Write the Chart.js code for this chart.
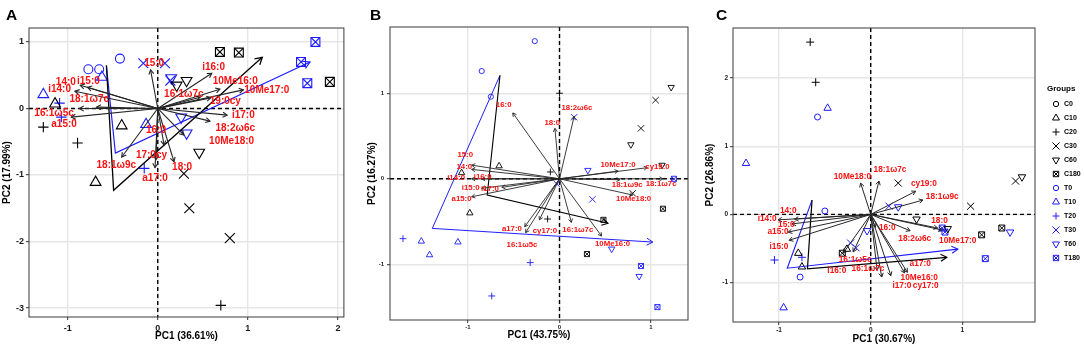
<!DOCTYPE html>
<html>
<head>
<meta charset="utf-8">
<script src="https://cdn.jsdelivr.net/npm/chart.js@4.4.1/dist/chart.umd.min.js"></script>
<style>
html, body { margin: 0; padding: 0; background: #fff; }
#wrap { position: relative; width: 1084px; height: 347px; overflow: hidden; }
#wrap canvas { position: absolute; top: 0; }
</style>
</head>
<body>
<div id="wrap">
  <canvas id="pa" width="352" height="347" style="left:0px"></canvas>
  <canvas id="pb" width="340" height="347" style="left:355px"></canvas>
  <canvas id="pc" width="384" height="347" style="left:700px"></canvas>
</div>
<script>
// groups shown in the legend
var groupNames = ['C0', 'C10', 'C20', 'C30', 'C60', 'C180', 'T0', 'T10', 'T20', 'T30', 'T60', 'T180'];

// ---- panel A ----
var aGroup = ['T0','T0','T0','T10','T10','T10','T20','T20','T20','C20','C20','C20','C30','C30','C30','T30','T30','T30',
              'C10','C10','C10','C60','C60','C60','T60','T60','T60','C180','C180','C180','T180','T180','T180'];
var aPC1 = [-0.77,-0.65,-0.42, -1.27,-0.62,-0.13, -1.09,-1.07,-0.15, -1.27,-0.89,0.70, 0.29,0.35,0.80, -0.16,0.08,0.14,
            -1.14,-0.40,-0.69, 0.32,0.21,0.46, 0.15,0.26,0.32, 0.69,0.90,1.91, 1.75,1.59,1.66];
var aPC2 = [0.59,0.59,0.75, 0.21,0.47,-0.24, 0.08,-0.13,-0.90, -0.28,-0.52,-2.96, -0.98,-1.50,-1.95, 0.68,0.68,0.42,
            0.07,-0.26,-1.11, 0.42,0.35,-0.66, 0.46,-0.13,-0.37, 0.85,0.84,0.40, 1.00,0.70,0.38];
var aAcid = ['15:0','i16:0','10Me16:0','10Me17:0','16:1ω7c','19:0cy','i17:0','18:2ω6c','10Me18:0','16:0',
             '17:0cy','18:0','a17:0','18:1ω9c','14:0','i15:0','i14:0','18:1ω7c','16:1ω5c','a15:0'];
var aLoad1 = [-0.08,0.60,0.69,0.95,0.47,0.59,0.77,0.58,0.29,0.07,-0.02,0.18,-0.03,-0.40,-0.86,-0.78,-0.92,-0.68,-0.87,-0.96];
var aLoad2 = [0.58,0.53,0.29,0.28,0.17,0.16,-0.10,-0.19,-0.40,-0.55,-0.77,-0.80,-0.89,-0.73,0.35,0.32,0.26,0.02,0.00,-0.13];
var aLab1 = [-0.04,0.62,0.86,1.21,0.29,0.75,0.95,0.86,0.82,-0.02,-0.07,0.27,-0.03,-0.46,-1.02,-0.77,-1.09,-0.76,-1.15,-1.04];
var aLab2 = [0.68,0.62,0.41,0.28,0.22,0.11,-0.10,-0.29,-0.50,-0.32,-0.70,-0.89,-1.05,-0.86,0.40,0.41,0.29,0.14,-0.07,-0.23];
var aPathC1 = [-0.57, -0.49, 1.16], aPathC2 = [0.65, -1.23, 0.77];
var aPathT1 = [-0.57, -0.47, 1.69], aPathT2 = [0.64, -0.67, 0.70];
var aTicksX = [-1, 0, 1, 2], aTicksY = [-3, -2, -1, 0, 1];

// ---- panel B ----
var bGroup = ['T0','T0','T0','C20','C20','C20','C30','C30','C30','T30','T30','T30','C60','C60','C60','T60','T60','T60',
              'C10','C10','C10','T10','T10','T10','T20','T20','T20','C180','C180','C180','T180','T180','T180'];
var bPC1 = [-0.27,-0.85,-0.75, 0.00,-0.10,-0.13, 1.05,0.89,0.80, 0.16,0.36,-0.03, 1.22,0.78,1.12, 0.31,0.57,0.87,
            -0.66,-1.07,-0.98, -1.51,-1.42,-1.11, -1.71,-0.32,-0.74, 0.48,0.30,1.13, 1.25,0.89,1.07];
var bPC2 = [1.61,1.26,0.96, 1.00,0.08,-0.47, 0.92,0.59,-0.17, 0.72,-0.24,-0.06, 1.07,0.40,0.16, 0.10,-0.82,-1.14,
            0.15,0.07,-0.40, -0.73,-0.89,-0.74, -0.70,-0.98,-1.37, -0.48,-0.88,-0.35, 0.00,-1.02,-1.50];
var bAcid = ['16:0','18:0','18:2ω6c','15:0','14:0','i14:0','i16:0','i15:0','i17:0','a15:0',
             '10Me17:0','cy19:0','18:1ω9c','18:1ω7c','10Me18:0','a17:0','16:1ω5c','cy17:0','16:1ω7c','10Me16:0'];
var bLoad1 = [-0.51,-0.05,0.16,-0.96,-0.96,-0.96,-0.85,-0.85,-0.63,-0.96,0.64,0.96,0.66,1.13,0.80,-0.38,-0.37,-0.22,0.13,0.46];
var bLoad2 = [0.77,0.59,0.73,0.16,0.11,0.00,0.00,-0.11,-0.10,-0.21,0.09,0.13,-0.01,0.00,-0.19,-0.56,-0.63,-0.48,-0.51,-0.67];
var bLab1 = [-0.61,-0.08,0.19,-1.03,-1.04,-1.13,-0.84,-0.97,-0.76,-1.07,0.64,1.07,0.74,1.11,0.81,-0.52,-0.41,-0.16,0.20,0.58];
var bLab2 = [0.86,0.66,0.83,0.28,0.14,0.01,0.02,-0.10,-0.12,-0.24,0.16,0.14,-0.07,-0.06,-0.24,-0.58,-0.77,-0.61,-0.60,-0.76];
var bPathC1 = [-0.65, -0.79, 0.53], bPathC2 = [1.21, -0.19, -0.52];
var bPathT1 = [-0.65, -1.39, 1.02], bPathT2 = [1.21, -0.58, -0.74];
var bTicksX = [-1, 0, 1], bTicksY = [-1, 0, 1];

// ---- panel C ----
var cGroup = ['C20','C20','T10','T10','T10','T0','T0','T0','T20','T20','C10','C10','C10','C180','C180','C180',
              'T180','T180','T180','C30','C30','C30','C60','C60','C60','T30','T30','T30','T60','T60','T60'];
var cPC1 = [-0.66,-0.60, -0.47,-1.36,-0.95, -0.58,-0.50,-0.77, -1.05,-0.75, -0.79,-0.75,-0.26, -0.31,1.21,1.43,
            0.78,0.81,1.25, 0.30,1.09,1.58, 0.50,0.84,1.65, 0.20,-0.22,-0.16, 0.30,-0.04,1.52];
var cPC2 = [2.53,1.94, 1.56,0.75,-1.37, 1.43,0.05,-0.92, -0.67,-0.63, -0.57,-0.77,-0.51, -0.57,-0.30,-0.20,
            -0.20,-0.26,-0.65, 0.46,0.12,0.49, -0.07,-0.21,0.55, 0.12,-0.42,-0.49, 0.11,-0.24,-0.26];
var cAcid = ['10Me18:0','18:1ω7c','cy19:0','18:1ω9c','14:0','i14:0','15:0','a15:0','i15:0','16:0',
             '18:2ω6c','18:0','10Me17:0','a17:0','10Me16:0','cy17:0','i17:0','16:1ω7c','16:1ω5c','i16:0'];
var cLoad1 = [-0.11,0.09,0.49,0.57,-0.83,-1.01,-0.86,-0.90,-0.89,0.05,0.43,0.73,0.78,0.40,0.37,0.22,0.12,0.07,-0.19,-0.30];
var cLoad2 = [0.46,0.49,0.34,0.21,-0.07,-0.08,-0.14,-0.26,-0.38,-0.19,-0.24,-0.20,-0.23,-0.85,-0.86,-0.90,-0.92,-0.82,-0.55,-0.57];
var cLab1 = [-0.20,0.21,0.58,0.78,-0.90,-1.13,-0.92,-1.01,-1.00,0.18,0.48,0.75,0.95,0.54,0.53,0.60,0.34,-0.03,-0.17,-0.37];
var cLab2 = [0.55,0.65,0.45,0.26,0.06,-0.07,-0.15,-0.26,-0.48,-0.19,-0.35,-0.10,-0.38,-0.73,-0.93,-1.05,-1.05,-0.80,-0.66,-0.82];
var cPathC1 = [-0.64, -0.69, 0.83], cPathC2 = [0.21, -0.80, -0.63];
var cPathT1 = [-0.64, -0.91, 0.95], cPathT2 = [0.21, -0.79, -0.51];
var cTicksX = [-1, 0, 1], cTicksY = [-1, 0, 1, 2];

var FONT = '"Liberation Sans", Arial, Helvetica, sans-serif';
var BLUE = '#1c1cff';
var RED = '#ff1010';

// marker style for a group; the number after C/T picks the shape
function styleOf(g, sz) {
    var k = g.slice(1);
    var s = {
        '0':   ['circle', 0, sz.circle],
        '10':  ['triangle', 0, sz.tri],
        '20':  ['cross', 0, sz.plus],
        '30':  ['crossRot', 0, sz.x],
        '60':  ['triangle', 180, sz.tri],
        '180': ['rect', 0, sz.box]
    }[k];
    return { pointStyle: s[0], rotation: s[1], radius: s[2], color: g[0] === 'C' ? '#000' : BLUE, box: k === '180' };
}

function pointSets(grp, pc1, pc2, P) {
    var out = [];
    groupNames.forEach(function (g) {
        var data = [];
        grp.forEach(function (gg, i) { if (gg === g) data.push({ x: pc1[i], y: pc2[i] }); });
        if (!data.length) return;
        var st = styleOf(g, P.sizes);
        var base = {
            label: g, data: data, order: 2,
            pointStyle: st.pointStyle, pointRotation: st.rotation, pointRadius: st.radius,
            pointBorderColor: st.color, pointBackgroundColor: 'rgba(0,0,0,0)', pointBorderWidth: P.mlw
        };
        out.push(base);
        if (st.box) out.push(Object.assign({}, base, { label: g + ' x', pointStyle: 'crossRot' }));
    });
    return out;
}

function pathSet(label, xs, ys, color, lw) {
    return {
        label: label, order: 1, showLine: true, pointRadius: 0, borderColor: color, borderWidth: lw,
        data: xs.map(function (x, i) { return { x: x, y: ys[i] }; })
    };
}

function arrowHead(ctx, x0, y0, x1, y1, len) {
    var a = Math.atan2(y1 - y0, x1 - x0), s = Math.PI / 6;
    ctx.beginPath();
    ctx.moveTo(x1 - len * Math.cos(a - s), y1 - len * Math.sin(a - s));
    ctx.lineTo(x1, y1);
    ctx.lineTo(x1 - len * Math.cos(a + s), y1 - len * Math.sin(a + s));
    ctx.stroke();
}

function drawMarker(ctx, g, sz, lw, x, y) {
    var st = styleOf(g, sz);
    ctx.save();
    ctx.strokeStyle = st.color;
    ctx.fillStyle = 'rgba(0,0,0,0)';
    var o = { pointStyle: st.pointStyle, rotation: st.rotation, radius: st.radius, borderWidth: lw };
    Chart.helpers.drawPoint(ctx, o, x, y);
    if (st.box) { o.pointStyle = 'crossRot'; Chart.helpers.drawPoint(ctx, o, x, y); }
    ctx.restore();
}

function decor(P) {
    return {
        id: 'decor',
        beforeDatasetsDraw: function (chart) {
            var ctx = chart.ctx, a = chart.chartArea, sx = chart.scales.x, sy = chart.scales.y;
            var x0 = sx.getPixelForValue(0), y0 = sy.getPixelForValue(0);
            ctx.save();
            ctx.beginPath(); ctx.rect(a.left, a.top, a.right - a.left, a.bottom - a.top); ctx.clip();
            ctx.setLineDash([4, 3]); ctx.lineWidth = 1.4; ctx.strokeStyle = '#000';
            ctx.beginPath();
            ctx.moveTo(a.left, y0); ctx.lineTo(a.right, y0);
            ctx.moveTo(x0, a.top); ctx.lineTo(x0, a.bottom);
            ctx.stroke();
            ctx.restore();
        },
        afterDatasetsDraw: function (chart) {
            var ctx = chart.ctx, sx = chart.scales.x, sy = chart.scales.y;
            var x0 = sx.getPixelForValue(0), y0 = sy.getPixelForValue(0);
            ctx.save();
            // arrow heads at the end of the trajectories
            chart.data.datasets.forEach(function (ds, i) {
                if (!ds.showLine) return;
                var pts = chart.getDatasetMeta(i).data, n = pts.length;
                ctx.strokeStyle = ds.borderColor; ctx.lineWidth = ds.borderWidth;
                arrowHead(ctx, pts[n - 2].x, pts[n - 2].y, pts[n - 1].x, pts[n - 1].y, P.thead);
            });
            // loading vectors
            ctx.strokeStyle = '#262626'; ctx.lineWidth = P.alw;
            P.load1.forEach(function (v, i) {
                var x1 = sx.getPixelForValue(v), y1 = sy.getPixelForValue(P.load2[i]);
                ctx.beginPath(); ctx.moveTo(x0, y0); ctx.lineTo(x1, y1); ctx.stroke();
                arrowHead(ctx, x0, y0, x1, y1, P.ahead);
            });
            // labels
            ctx.fillStyle = RED;
            ctx.font = 'bold ' + P.labSize + 'px ' + FONT;
            ctx.textAlign = 'center'; ctx.textBaseline = 'middle';
            P.acids.forEach(function (t, i) {
                ctx.fillText(t, sx.getPixelForValue(P.lab1[i]), sy.getPixelForValue(P.lab2[i]));
            });
            ctx.restore();
        },
        afterDraw: function (chart) {
            var ctx = chart.ctx, a = chart.chartArea;
            ctx.save();
            ctx.strokeStyle = '#3a3a3a'; ctx.lineWidth = 1;
            ctx.strokeRect(a.left, a.top, a.right - a.left, a.bottom - a.top);
            ctx.fillStyle = '#000';
            ctx.font = 'bold 15.5px ' + FONT;
            ctx.textAlign = 'left'; ctx.textBaseline = 'alphabetic';
            ctx.fillText(P.letter, P.letterX, 20);
            if (P.legend) {
                ctx.font = 'bold 8px ' + FONT;
                ctx.textBaseline = 'middle';
                ctx.fillText('Groups', P.legend.x - 9, P.legend.y - 15);
                ctx.font = 'bold 7px ' + FONT;
                groupNames.forEach(function (g, i) {
                    var y = P.legend.y + i * 14.0;
                    drawMarker(ctx, g, P.legend.sizes, 1, P.legend.x, y);
                    ctx.fillStyle = '#000';
                    ctx.fillText(g, P.legend.x + 8, y);
                });
            }
            ctx.restore();
        }
    };
}

function scaleOpts(P, axis) {
    var horiz = axis === 'x';
    return {
        type: 'linear',
        min: horiz ? P.xmin : P.ymin,
        max: horiz ? P.xmax : P.ymax,
        afterBuildTicks: function (s) {
            s.ticks = (horiz ? P.ticksX : P.ticksY).map(function (v) { return { value: v }; });
        },
        afterFit: function (s) {
            if (horiz) s.height = P.xAxisH; else s.width = P.yAxisW;
        },
        grid: { color: '#E6E6E6', lineWidth: 1.4, tickColor: '#333', tickLength: 3, tickWidth: 1 },
        border: { display: false },
        ticks: {
            font: { size: P.tickSize, weight: 'bold', family: FONT }, color: '#1a1a1a',
            padding: horiz ? P.tickPadX : P.tickPadY, autoSkip: false, maxRotation: 0,
            callback: function (v) { return String(v); }
        },
        title: {
            display: true, text: horiz ? P.titleX : P.titleY, color: '#000',
            font: { size: 10, weight: 'bold', family: FONT },
            padding: horiz ? { top: 0, bottom: P.titlePadX } : { top: P.titlePadY, bottom: 0 }
        }
    };
}

function makeChart(id, P) {
    var sets = pointSets(P.grp, P.pc1, P.pc2, P);
    sets.push(pathSet('C path', P.pathC1, P.pathC2, '#000', P.tlw));
    sets.push(pathSet('T path', P.pathT1, P.pathT2, BLUE, P.tlw * 0.9));
    return new Chart(document.getElementById(id), {
        type: 'scatter',
        data: { datasets: sets },
        options: {
            responsive: false, animation: false, devicePixelRatio: 1,
            layout: { padding: { top: P.padTop, right: P.padRight, left: 0, bottom: 0 } },
            plugins: { legend: { display: false }, tooltip: { enabled: false } },
            scales: { x: scaleOpts(P, 'x'), y: scaleOpts(P, 'y') }
        },
        plugins: [decor(P)]
    });
}

makeChart('pa', {
    letter: 'A', letterX: 6,
    grp: aGroup, pc1: aPC1, pc2: aPC2, acids: aAcid, load1: aLoad1, load2: aLoad2, lab1: aLab1, lab2: aLab2,
    pathC1: aPathC1, pathC2: aPathC2, pathT1: aPathT1, pathT2: aPathT2, ticksX: aTicksX, ticksY: aTicksY,
    xmin: -1.429, xmax: 2.066, ymin: -3.135, ymax: 1.21,
    padTop: 28, padRight: 5, yAxisW: 29, xAxisH: 30,
    tickSize: 9, tickPadX: 3, tickPadY: 2, titlePadX: 5, titlePadY: 1,
    titleX: 'PC1 (36.61%)', titleY: 'PC2 (17.99%)',
    sizes: { circle: 4.5, tri: 6.2, plus: 5.2, x: 7, box: 6.3 }, mlw: 1.1,
    labSize: 10, alw: 1.1, ahead: 5, tlw: 1.3, thead: 8
});

makeChart('pb', {
    letter: 'B', letterX: 15,
    grp: bGroup, pc1: bPC1, pc2: bPC2, acids: bAcid, load1: bLoad1, load2: bLoad2, lab1: bLab1, lab2: bLab2,
    pathC1: bPathC1, pathC2: bPathC2, pathT1: bPathT1, pathT2: bPathT2, ticksX: bTicksX, ticksY: bTicksY,
    xmin: -1.852, xmax: 1.404, ymin: -1.651, ymax: 1.775,
    padTop: 27, padRight: 7, yAxisW: 35, xAxisH: 27,
    tickSize: 6, tickPadX: 1, tickPadY: 3, titlePadX: 6, titlePadY: 11,
    titleX: 'PC1 (43.75%)', titleY: 'PC2 (16.27%)',
    sizes: { circle: 2.6, tri: 3.7, plus: 3.4, x: 4.5, box: 3.6 }, mlw: 0.9,
    labSize: 7.8, alw: 0.9, ahead: 4, tlw: 1.1, thead: 7
});

makeChart('pc', {
    letter: 'C', letterX: 16,
    grp: cGroup, pc1: cPC1, pc2: cPC2, acids: cAcid, load1: cLoad1, load2: cLoad2, lab1: cLab1, lab2: cLab2,
    pathC1: cPathC1, pathC2: cPathC2, pathT1: cPathT1, pathT2: cPathT2, ticksX: cTicksX, ticksY: cTicksY,
    xmin: -1.502, xmax: 1.792, ymin: -1.58, ymax: 2.737,
    padTop: 28, padRight: 49, yAxisW: 33, xAxisH: 25,
    tickSize: 6.5, tickPadX: 1, tickPadY: 2, titlePadX: 2, titlePadY: 4,
    titleX: 'PC1 (30.67%)', titleY: 'PC2 (26.86%)',
    sizes: { circle: 3, tri: 4.3, plus: 4, x: 5, box: 4.2 }, mlw: 1,
    labSize: 8.3, alw: 1, ahead: 4.5, tlw: 1.2, thead: 7,
    legend: { x: 356, y: 104, sizes: { circle: 2.7, tri: 4, plus: 3.5, x: 5, box: 3.8 } }
});
</script>
</body>
</html>
